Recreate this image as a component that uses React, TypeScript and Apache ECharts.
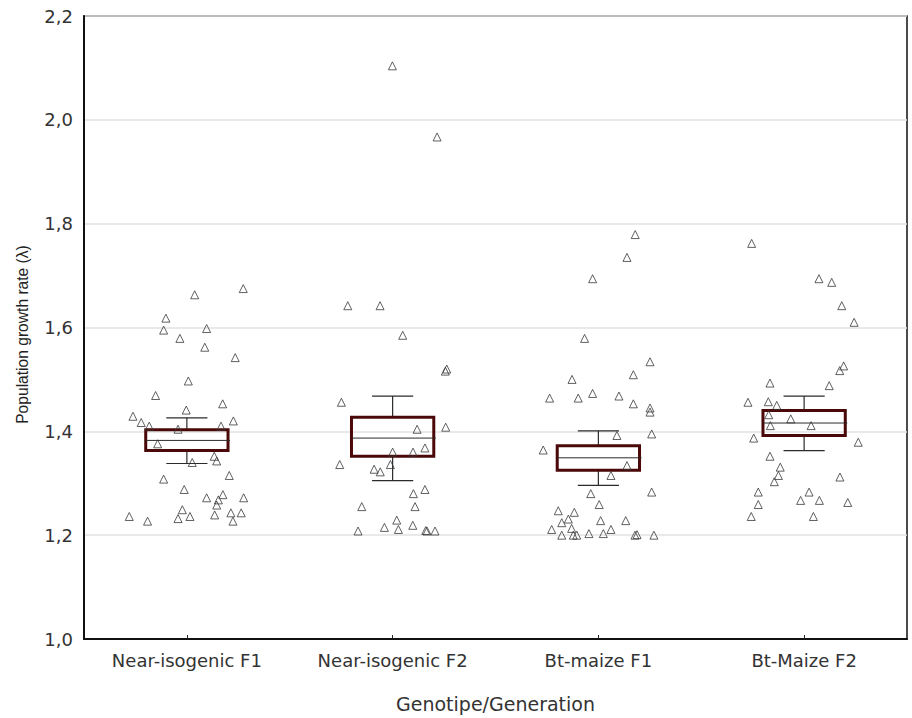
import React, { useEffect, useRef } from "react";
import * as echarts from "echarts";

// Groups along the horizontal axis
const categories = ["Near-isogenic F1", "Near-isogenic F2", "Bt-maize F1", "Bt-Maize F2"];

// Y-axis ticks (λ)
const yTicks = [1.0, 1.2, 1.4, 1.6, 1.8, 2.0, 2.2];

// Individual growth rates per group and their horizontal jitter (in category units)
const nearF1Values = [1.675, 1.663, 1.618, 1.595, 1.598, 1.579, 1.562, 1.542, 1.497, 1.469, 1.453, 1.441, 1.429, 1.417, 1.42, 1.41, 1.41, 1.404, 1.376, 1.352, 1.343, 1.34, 1.315, 1.308, 1.288, 1.272, 1.278, 1.272, 1.268, 1.258, 1.249, 1.236, 1.227, 1.232, 1.236, 1.239, 1.243, 1.243, 1.227];
const nearF1Jitter = [0.274, 0.038, -0.102, -0.113, 0.096, -0.034, 0.087, 0.235, 0.007, -0.152, 0.174, -0.003, -0.262, -0.222, 0.226, -0.183, 0.166, -0.043, -0.142, 0.133, 0.145, 0.026, 0.206, -0.113, -0.013, 0.096, 0.175, 0.276, 0.153, 0.145, -0.022, -0.28, -0.191, -0.043, 0.015, 0.135, 0.214, 0.264, 0.224];

const nearF2Values = [2.104, 1.967, 1.642, 1.642, 1.585, 1.52, 1.516, 1.456, 1.404, 1.408, 1.368, 1.36, 1.36, 1.336, 1.336, 1.327, 1.322, 1.28, 1.288, 1.255, 1.255, 1.229, 1.208, 1.215, 1.211, 1.219, 1.209, 1.208, 1.208];
const nearF2Jitter = [-0.001, 0.216, -0.218, -0.061, 0.049, 0.263, 0.256, -0.249, 0.119, 0.258, 0.157, 0.0, 0.099, -0.257, -0.011, -0.09, -0.06, 0.101, 0.157, -0.15, 0.109, 0.02, -0.168, -0.04, 0.028, 0.098, 0.161, 0.167, 0.206];

const btF1Values = [1.779, 1.735, 1.694, 1.579, 1.534, 1.509, 1.5, 1.464, 1.464, 1.473, 1.468, 1.453, 1.445, 1.437, 1.392, 1.395, 1.364, 1.334, 1.315, 1.28, 1.283, 1.259, 1.247, 1.244, 1.231, 1.224, 1.228, 1.228, 1.211, 1.213, 1.2, 1.2, 1.2, 1.203, 1.203, 1.211, 1.2, 1.201, 1.2];
const btF1Jitter = [0.179, 0.139, -0.028, -0.067, 0.251, 0.17, -0.128, -0.237, -0.098, -0.028, 0.1, 0.17, 0.251, 0.251, 0.09, 0.259, -0.268, 0.139, 0.061, -0.037, 0.259, 0.004, -0.195, -0.117, -0.146, -0.178, 0.011, 0.133, -0.227, -0.13, -0.178, -0.122, -0.105, -0.046, 0.024, 0.061, 0.178, 0.188, 0.27];

const btF2Values = [1.762, 1.694, 1.687, 1.642, 1.61, 1.526, 1.517, 1.493, 1.488, 1.456, 1.457, 1.45, 1.432, 1.424, 1.411, 1.411, 1.387, 1.379, 1.352, 1.331, 1.315, 1.303, 1.312, 1.283, 1.283, 1.267, 1.267, 1.263, 1.259, 1.236, 1.236];
const btF2Jitter = [-0.255, 0.072, 0.134, 0.183, 0.243, 0.192, 0.173, -0.166, 0.122, -0.273, -0.174, -0.133, -0.172, -0.065, -0.164, 0.034, -0.245, 0.263, -0.166, -0.116, -0.125, -0.145, 0.174, -0.223, 0.024, -0.017, 0.074, 0.212, -0.223, -0.257, 0.045];

// Summary per group: lower whisker, box bottom, centre line, box top, upper whisker
const whiskerLow = [1.338, 1.305, 1.296, 1.363];
const boxLow = [1.363, 1.352, 1.325, 1.392];
const centre = [1.3825, 1.387, 1.349, 1.416];
const boxHigh = [1.403, 1.427, 1.372, 1.44];
const whiskerHigh = [1.426, 1.468, 1.401, 1.468];

const groupValues = [nearF1Values, nearF2Values, btF1Values, btF2Values];
const groupJitter = [nearF1Jitter, nearF2Jitter, btF1Jitter, btF2Jitter];

const FONT = "'DejaVu Sans', 'Liberation Sans', Arial, sans-serif";
const NAME_FONT = "'Liberation Sans', Arial, sans-serif";

export default function App() {
  const ref = useRef<HTMLDivElement>(null);

  useEffect(() => {
    if (!ref.current) return;
    const chart = echarts.init(ref.current, null, { renderer: "svg" });

    const points: number[][] = [];
    groupValues.forEach((vals, g) => {
      vals.forEach((v, i) => points.push([g + groupJitter[g][i], v]));
    });

    const boxes = categories.map((_, g) => [g, whiskerLow[g], boxLow[g], centre[g], boxHigh[g], whiskerHigh[g]]);

    const renderBox = (params: any, api: any) => {
      const x = api.value(0);
      const pLow = api.coord([x, api.value(1)]);
      const pQ1 = api.coord([x, api.value(2)]);
      const pMid = api.coord([x, api.value(3)]);
      const pQ3 = api.coord([x, api.value(4)]);
      const pHigh = api.coord([x, api.value(5)]);
      const unit = api.size([1, 0])[0];
      const half = unit * 0.2;
      const cap = unit * 0.1;
      const cx = pMid[0];
      const whisker = { stroke: "#2b2b2b", lineWidth: 1.2 };
      return {
        type: "group",
        children: [
          { type: "line", shape: { x1: cx, y1: pQ3[1], x2: cx, y2: pHigh[1] }, style: whisker },
          { type: "line", shape: { x1: cx - cap, y1: pHigh[1], x2: cx + cap, y2: pHigh[1] }, style: whisker },
          { type: "line", shape: { x1: cx, y1: pQ1[1], x2: cx, y2: pLow[1] }, style: whisker },
          { type: "line", shape: { x1: cx - cap, y1: pLow[1], x2: cx + cap, y2: pLow[1] }, style: whisker },
          {
            type: "rect",
            shape: { x: cx - half, y: pQ3[1], width: half * 2, height: pQ1[1] - pQ3[1] },
            style: { fill: "none", stroke: "#4a0808", lineWidth: 3 },
          },
          { type: "line", shape: { x1: cx - half, y1: pMid[1], x2: cx + half + 2, y2: pMid[1] }, style: { stroke: "#2b2b2b", lineWidth: 1 } },
        ],
      };
    };

    chart.setOption({
      animation: false,
      backgroundColor: "#ffffff",
      textStyle: { fontFamily: FONT },
      grid: {
        left: 84,
        right: 5,
        top: 16,
        bottom: 77,
        show: true,
        borderColor: "#111",
        borderWidth: 1.5,
        backgroundColor: "transparent",
      },
      xAxis: [
        {
          type: "category",
          data: categories,
          boundaryGap: true,
          axisLine: { lineStyle: { color: "#111", width: 2 } },
          axisTick: { show: true, alignWithLabel: true, inside: true, length: 4, lineStyle: { color: "#222", width: 1 } },
          axisLabel: { fontSize: 18, color: "#333", margin: 12, fontFamily: FONT },
          splitLine: { show: false },
          name: "Genotipe/Generation",
          nameLocation: "middle",
          nameGap: 55,
          nameTextStyle: { fontSize: 19, color: "#333", fontFamily: FONT },
        },
        { type: "value", min: -0.5, max: 3.5, show: false },
      ],
      yAxis: {
        type: "value",
        min: yTicks[0],
        max: yTicks[yTicks.length - 1],
        interval: 0.2,
        axisLine: { show: true, onZero: false, lineStyle: { color: "#111", width: 2 } },
        axisTick: { show: false },
        axisLabel: {
          fontSize: 18,
          color: "#333",
          margin: 11,
          fontFamily: FONT,
          formatter: (v: number) => v.toFixed(1).replace(".", ","),
        },
        splitLine: { show: true, lineStyle: { color: "#e2e2e2", width: 1.5 } },
        name: "Population growth rate (λ)",
        nameLocation: "middle",
        nameGap: 54,
        nameTextStyle: { fontSize: 15.6, color: "#222", fontFamily: NAME_FONT, padding: [0, 14, 0, 0] },
      },
      series: [
        {
          type: "custom",
          xAxisIndex: 1,
          renderItem: renderBox,
          data: boxes,
          z: 2,
        },
        {
          type: "scatter",
          xAxisIndex: 1,
          data: points,
          symbol: "triangle",
          symbolSize: 8,
          itemStyle: { color: "rgba(255,255,255,0)", borderColor: "#3a3a3a", borderWidth: 1 },
          z: 3,
        },
      ],
    });

    return () => chart.dispose();
  }, []);

  return (
    <div
      ref={ref}
      style={{ position: "absolute", left: 0, top: 0, width: 912, height: 718, background: "#fff" }}
    />
  );
}
